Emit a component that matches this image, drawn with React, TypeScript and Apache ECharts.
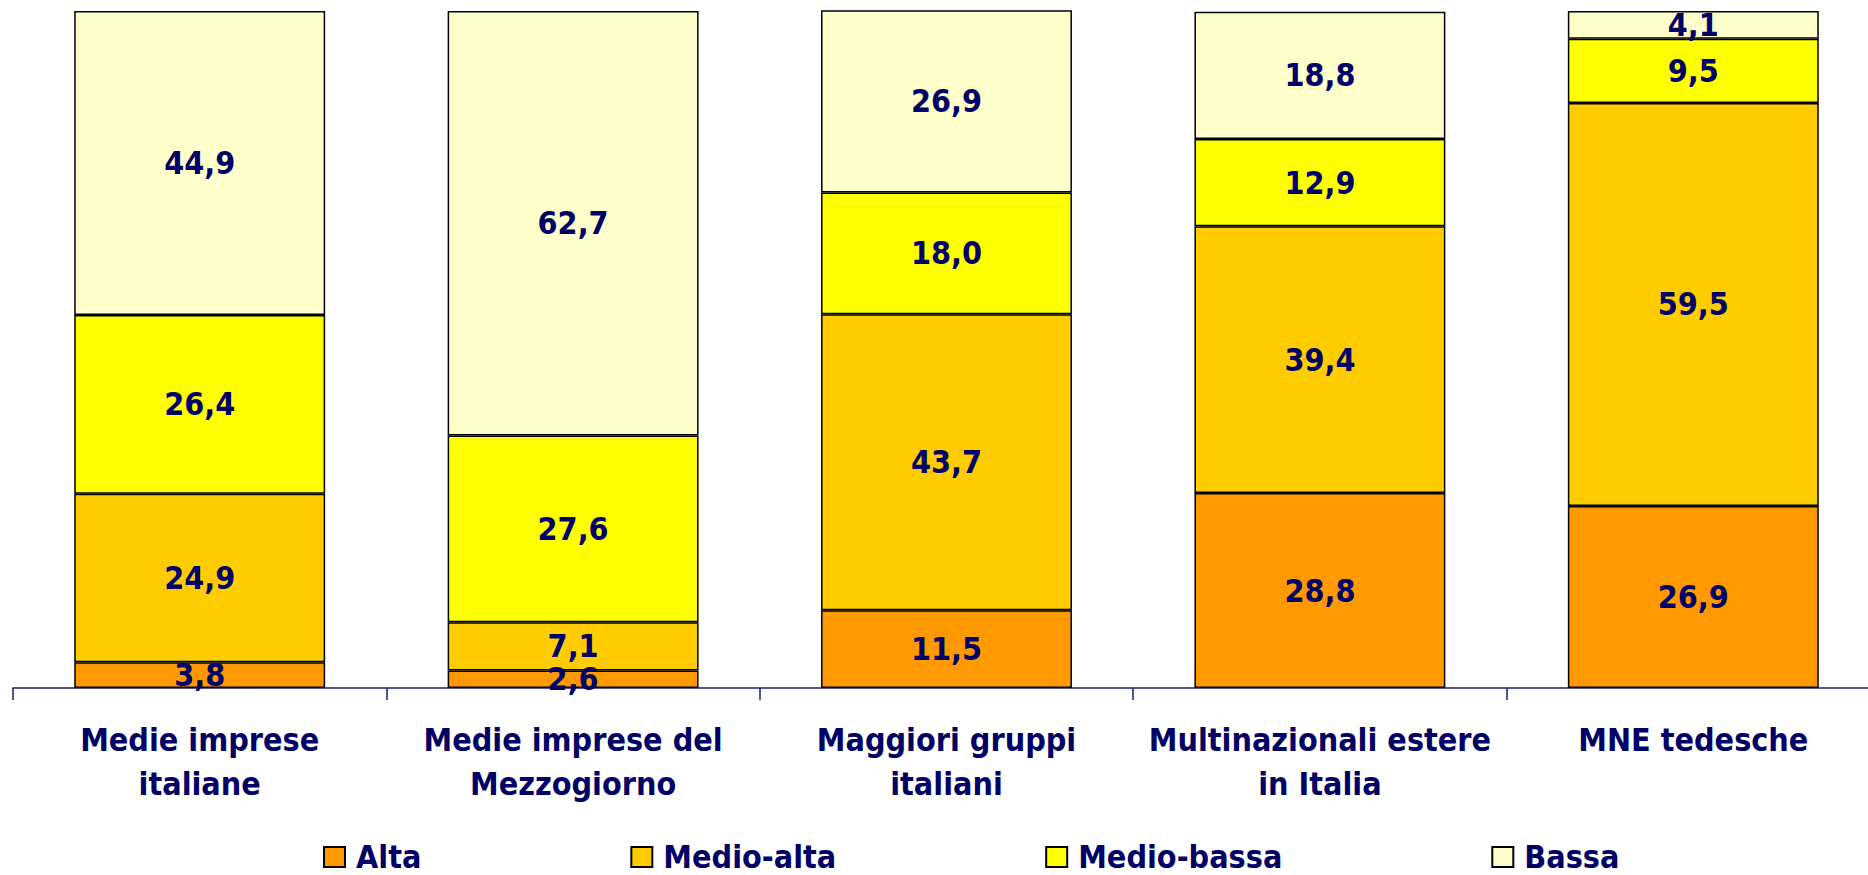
import React, { useEffect, useRef } from "react";
import * as echarts from "echarts";

const categories = [
  "Medie imprese\nitaliane",
  "Medie imprese del\nMezzogiorno",
  "Maggiori gruppi\nitaliani",
  "Multinazionali estere\nin Italia",
  "MNE tedesche",
];
const seriesNames = ["Alta", "Medio-alta", "Medio-bassa", "Bassa"];
const alta = [3.8, 2.6, 11.5, 28.8, 26.9];
const medioAlta = [24.9, 7.1, 43.7, 39.4, 59.5];
const medioBassa = [26.4, 27.6, 18.0, 12.9, 9.5];
const bassa = [44.9, 62.7, 26.9, 18.8, 4.1];
const colors = ["#FF9900", "#FFCC00", "#FFFF00", "#FFFFCC"];

const FONT = "'DejaVu Sans Condensed', 'DejaVu Sans', sans-serif";
const NAVY = "#000066";

export default function App() {
  const ref = useRef<HTMLDivElement>(null);
  useEffect(() => {
    if (!ref.current) return;
    const chart = echarts.init(ref.current, undefined, { renderer: "svg" });
    const data = [alta, medioAlta, medioBassa, bassa];
    chart.setOption({
      animation: false,
      backgroundColor: "#ffffff",
      grid: {
        left: 13,
        width: 1867,
        top: 11,
        bottom: 187,
        containLabel: false,
        outerBoundsMode: "none",
      },
      legend: {
        left: 323,
        top: 841,
        padding: 0,
        itemWidth: 21,
        itemHeight: 20,
        itemGap: 209,
        icon: "rect",
        data: seriesNames,
        textStyle: {
          fontFamily: FONT,
          fontWeight: "bold",
          fontSize: 32,
          lineHeight: 32,
          color: NAVY,
          padding: [0, 0, 0, 6],
        },
      },
      xAxis: {
        type: "category",
        data: categories,
        axisLine: { show: true, lineStyle: { color: "#1a1a7a", width: 1.5 } },
        axisTick: { show: true, length: 12, lineStyle: { color: "#1a1a7a", width: 1.5 } },
        axisLabel: {
          interval: 0,
          margin: 30,
          fontFamily: FONT,
          fontWeight: "bold",
          fontSize: 32,
          lineHeight: 44,
          color: NAVY,
        },
      },
      yAxis: {
        type: "value",
        min: 0,
        max: 100,
        show: false,
        splitLine: { show: false },
      },
      series: seriesNames.map((name, i) => ({
        name,
        type: "bar",
        stack: "total",
        barCategoryGap: "32.8%",
        clip: false,
        data: data[i],
        itemStyle: { color: colors[i], borderColor: "#000000", borderWidth: 1.5 },
        label: {
          show: true,
          position: "inside",
          fontFamily: FONT,
          fontWeight: "bold",
          fontSize: 32,
          color: NAVY,
          formatter: (p: any) => Number(p.value).toFixed(1).replace(".", ","),
        },
      })),
    });
    return () => chart.dispose();
  }, []);
  return (
    <div
      ref={ref}
      style={{ position: "fixed", left: 0, top: 0, width: 1868, height: 875 }}
    />
  );
}
